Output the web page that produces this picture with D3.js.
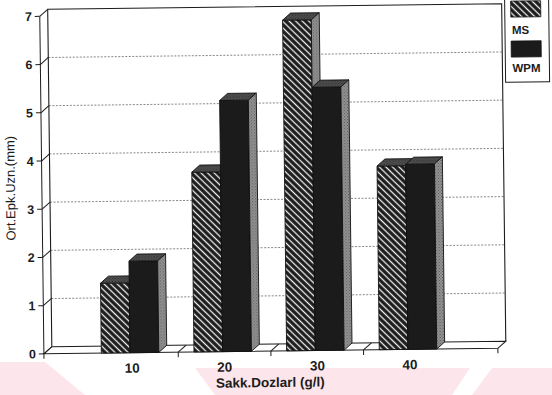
<!DOCTYPE html>
<html>
<head>
<meta charset="utf-8">
<script src="https://cdn.jsdelivr.net/npm/d3@7"></script>
<style>
  body { margin: 0; background: #fff; }
  svg { display: block; }
</style>
</head>
<body>
<svg id="chart" width="552" height="395"></svg>
<script>
// Mean epicotyl elongation (mm) by sucrose dose, two media
const categories = ["10", "20", "30", "40"];
const seriesNames = ["MS", "WPM"];
const msValues = [1.45, 3.73, 6.86, 3.81];
const wpmValues = [1.90, 5.21, 5.46, 3.84];
const yTicks = [0, 1, 2, 3, 4, 5, 6, 7];
const yTitle = "Ort.Epk.Uzn.(mm)";
const xTitle = "Sakk.Dozlarl (g/l)";

const font = "'Liberation Sans', Arial, sans-serif";
const ink = "#1c1c1c";
const DX = 8, DY = -7;   // depth offset of the 3D box

const svg = d3.select("#chart");
const defs = svg.append("defs");

// diagonal hatch for MS fronts
const hatch = defs.append("pattern")
  .attr("id", "hatch").attr("patternUnits", "userSpaceOnUse")
  .attr("width", 4.6).attr("height", 4.6)
  .attr("patternTransform", "rotate(-45)");
hatch.append("rect").attr("width", 4.6).attr("height", 4.6).attr("fill", "#1a1a1a");
hatch.append("line").attr("x1", 2.3).attr("x2", 2.3).attr("y1", 0).attr("y2", 4.6)
  .attr("stroke", "#f2f2f2").attr("stroke-width", 1.3);

// stippled greys for top and side faces
function stipple(id, base, dot) {
  const p = defs.append("pattern").attr("id", id)
    .attr("patternUnits", "userSpaceOnUse").attr("width", 3).attr("height", 3);
  p.append("rect").attr("width", 3).attr("height", 3).attr("fill", base);
  p.append("rect").attr("x", 0).attr("y", 0).attr("width", 1).attr("height", 1).attr("fill", dot);
  p.append("rect").attr("x", 1.5).attr("y", 1.5).attr("width", 1).attr("height", 1).attr("fill", dot);
}
stipple("topFace", "#505050", "#262626");
stipple("sideFace", "#959595", "#555");

const faces = {
  MS:  { front: "url(#hatch)", top: "url(#topFace)", side: "url(#sideFace)" },
  WPM: { front: "#1b1b1b",     top: "url(#topFace)", side: "url(#sideFace)" }
};

// faint pink print in the lower margin
const wm = svg.append("g").attr("fill", "#fce6eb");
[
  [[0, 362], [45, 362], [85, 395], [0, 395]],
  [[195, 368], [470, 368], [452, 395], [215, 395]],
  [[492, 368], [552, 368], [552, 395], [472, 395]]
].forEach(pts => wm.append("polygon").attr("points", pts.map(p => p.join(",")).join(" ")));

const root = svg.append("g").attr("transform", "rotate(-0.7,276,197)");

const x = d3.scaleBand().domain(categories).range([42, 496]).paddingInner(0).paddingOuter(0.45);
const sub = d3.scaleBand().domain(seriesNames)
  .range([x.bandwidth() * 0.17, x.bandwidth() * 0.79]);
const y = d3.scaleLinear().domain([0, 7]).range([351, 13.5]);

const [x0, x1] = x.range();
const yb = y(0), yt = y(7);

// back wall: frame and dashed grid
const wall = root.append("g").attr("fill", "none");
wall.selectAll("line.grid").data(yTicks.filter(t => t > 0 && t < 7)).join("line")
  .attr("class", "grid")
  .attr("x1", x0 + DX).attr("x2", x1 + DX)
  .attr("y1", d => y(d) + DY).attr("y2", d => y(d) + DY)
  .attr("stroke", "#6a6a6a").attr("stroke-width", 0.8).attr("stroke-dasharray", "2,1.5");
wall.append("path")
  .attr("d", `M${x0 + DX},${yb + DY}V${yt + DY}H${x1 + DX}V${yb + DY}`)
  .attr("stroke", ink).attr("stroke-width", 1.1);

// floor
const floor = root.append("g").attr("fill", "none").attr("stroke", ink).attr("stroke-width", 1);
floor.append("path")
  .attr("d", `M${x0},${yb}L${x0 + DX},${yb + DY}H${x1 + DX}L${x1},${yb}Z`)
  .attr("fill", "#fff");
const bounds = categories.slice(1).map(c => x(c));
floor.selectAll("line.div").data(bounds).join("line")
  .attr("class", "div")
  .attr("x1", d => d).attr("y1", yb).attr("x2", d => d + DX).attr("y2", yb + DY);
floor.selectAll("line.tick").data([x0, ...bounds, x1]).join("line")
  .attr("class", "tick")
  .attr("x1", d => d).attr("x2", d => d).attr("y1", yb).attr("y2", yb + 5);

// y axis: front line, ticks and short diagonals to the wall
const yAxis = root.append("g").attr("fill", "none").attr("stroke", ink).attr("stroke-width", 1);
yAxis.append("line").attr("x1", x0).attr("x2", x0).attr("y1", yt).attr("y2", yb);
yAxis.selectAll("line.t").data(yTicks).join("line").attr("class", "t")
  .attr("x1", x0 - 5).attr("x2", x0).attr("y1", d => y(d)).attr("y2", d => y(d));
yAxis.selectAll("line.d").data(yTicks).join("line").attr("class", "d")
  .attr("x1", x0).attr("x2", x0 + DX).attr("y1", d => y(d)).attr("y2", d => y(d) + DY);

root.append("g").selectAll("text").data(yTicks).join("text")
  .attr("x", x0 - 8).attr("y", d => y(d)).attr("dy", "0.36em")
  .attr("text-anchor", "end").attr("font-family", font).attr("font-weight", "bold")
  .attr("font-size", 12.5).attr("fill", ink).text(d => d);

// 3D bars
const rows = categories.map((c, i) => ({ cat: c, MS: msValues[i], WPM: wpmValues[i] }));
const bars = root.append("g").attr("stroke", "#111").attr("stroke-width", 0.9).attr("stroke-linejoin", "round");
rows.forEach(r => {
  seriesNames.forEach(s => {
    const bx = x(r.cat) + sub(s), bw = sub.bandwidth();
    const top = y(r[s]);
    const g = bars.append("g");
    g.append("rect").attr("x", bx).attr("y", top).attr("width", bw).attr("height", yb - top)
      .attr("fill", faces[s].front);
    g.append("path")
      .attr("d", `M${bx},${top}L${bx + DX},${top + DY}H${bx + bw + DX}L${bx + bw},${top}Z`)
      .attr("fill", faces[s].top);
    g.append("path")
      .attr("d", `M${bx + bw},${top}L${bx + bw + DX},${top + DY}V${yb + DY}L${bx + bw},${yb}Z`)
      .attr("fill", faces[s].side);
  });
});

// category labels
root.append("g").selectAll("text").data(categories).join("text")
  .attr("x", d => x(d) + x.bandwidth() / 2).attr("y", yb + 20)
  .attr("text-anchor", "middle").attr("font-family", font).attr("font-weight", "bold")
  .attr("font-size", 13.5).attr("fill", ink).text(d => d);

// axis titles
root.append("text").attr("x", 268).attr("y", 387).attr("text-anchor", "middle")
  .attr("font-family", font).attr("font-weight", "bold").attr("font-size", 13.5)
  .attr("fill", ink).text(xTitle);
root.append("text").attr("transform", "translate(15,185) rotate(-90)")
  .attr("text-anchor", "middle").attr("font-family", font).attr("font-size", 13)
  .attr("fill", ink).text(yTitle);

// legend
const leg = root.append("g");
leg.append("rect").attr("x", 507).attr("y", -2).attr("width", 44).attr("height", 87)
  .attr("fill", "#fff").attr("stroke", ink).attr("stroke-width", 1);
seriesNames.forEach((s, i) => {
  leg.append("rect").attr("x", 513).attr("y", 4 + i * 40).attr("width", 30).attr("height", 16)
    .attr("fill", faces[s].front).attr("stroke", "#111").attr("stroke-width", 0.8);
  leg.append("text").attr("x", 514).attr("y", 37 + i * 38)
    .attr("font-family", font).attr("font-weight", "bold").attr("font-size", 11.5)
    .attr("fill", ink).text(s);
});
</script>
</body>
</html>
